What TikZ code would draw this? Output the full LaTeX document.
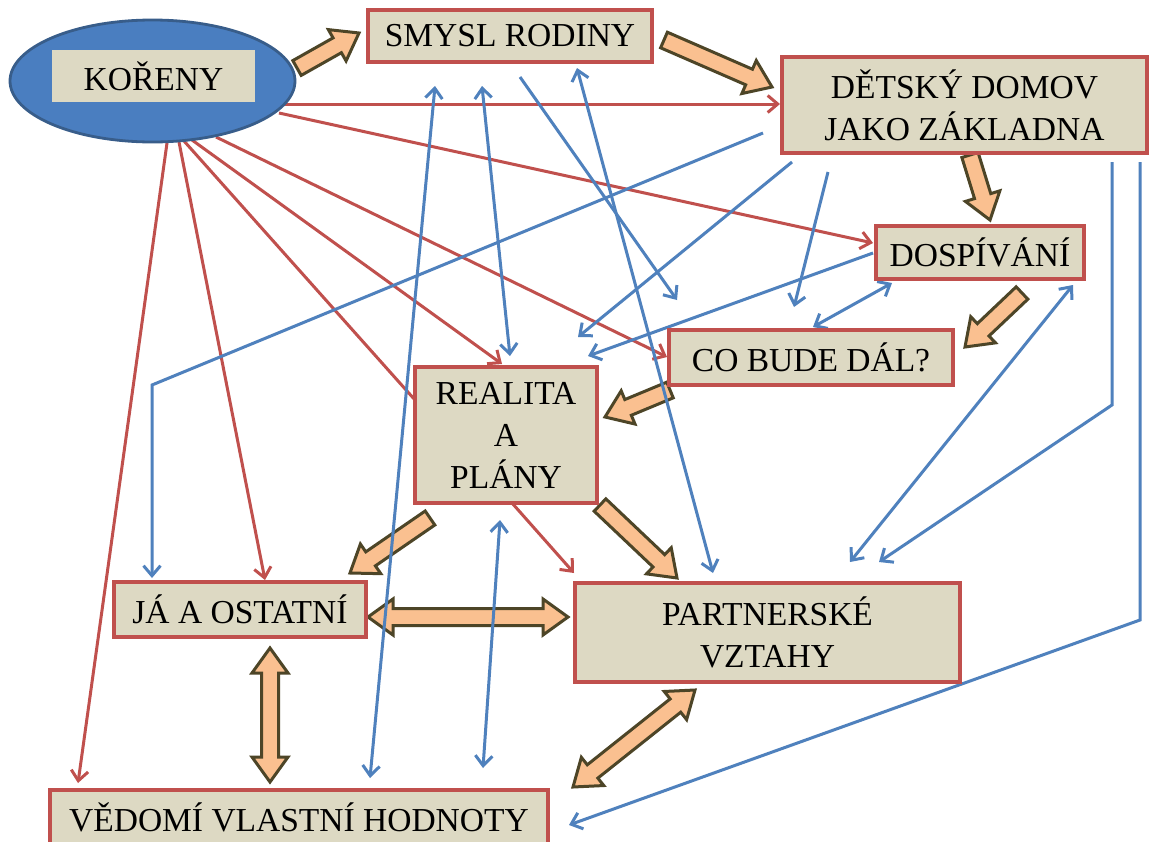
\documentclass[tikz,border=0pt]{standalone}
\usepackage{fontspec}
\setmainfont{Liberation Serif}
\usetikzlibrary{shapes.geometric,arrows.meta,calc}
\definecolor{boxfill}{HTML}{DDD9C3}
\definecolor{boxline}{HTML}{C0504D}
\definecolor{redl}{HTML}{C0504D}
\definecolor{bluel}{HTML}{4F81BD}
\definecolor{ellfill}{HTML}{4A7EC0}
\definecolor{ellline}{HTML}{385D8A}
\definecolor{orfill}{HTML}{FAC090}
\definecolor{orline}{HTML}{4D4527}
\tikzset{
  box/.style={draw=boxline, fill=boxfill, line width=3.2pt, inner sep=0pt, align=center,
              font=\fontsize{33.5}{42}\selectfont},
  redln/.style={draw=redl, line width=3pt},
  blueln/.style={draw=bluel, line width=3pt},
  tipe/.style={-{Straight Barb[length=10pt,width=17pt]}},
  tipb/.style={{Straight Barb[length=10pt,width=17pt]}-{Straight Barb[length=10pt,width=17pt]}},
  orarrow/.style={draw=orline, fill=orfill, line width=3pt, line join=miter},
}
\newcommand{\blockarrow}[2]{%
  \coordinate (baB) at ($(#2)!25pt!(#1)$);
  \draw[orarrow] ($(#1)!8.5pt!90:(#2)$) -- ($(baB)!8.5pt!-90:(#1)$) -- ($(baB)!18pt!-90:(#1)$) -- (#2)
     -- ($(baB)!18pt!90:(#1)$) -- ($(baB)!8.5pt!90:(#1)$) -- ($(#1)!8.5pt!-90:(#2)$) -- cycle;}
\newcommand{\dblockarrow}[2]{%
  \coordinate (daA) at ($(#1)!25pt!(#2)$);
  \coordinate (daB) at ($(#2)!25pt!(#1)$);
  \draw[orarrow] (#1) -- ($(daA)!18pt!90:(#2)$) -- ($(daA)!8.5pt!90:(#2)$) -- ($(daB)!8.5pt!-90:(#1)$)
     -- ($(daB)!18pt!-90:(#1)$) -- (#2) -- ($(daB)!18pt!90:(#1)$) -- ($(daB)!8.5pt!90:(#1)$)
     -- ($(daA)!8.5pt!-90:(#2)$) -- ($(daA)!18pt!-90:(#2)$) -- cycle;}
\begin{document}
\begin{tikzpicture}[x=1pt,y=-1pt]
\fill[white] (0,0) rectangle (1149,841);
\useasboundingbox (0,0) rectangle (1149,841);

% ---- block arrow end points
\coordinate (a1s) at (297,68);   \coordinate (a1e) at (359,33);
\coordinate (a2s) at (664,40);   \coordinate (a2e) at (772,87);
\coordinate (a3s) at (970,155);  \coordinate (a3e) at (990,220);
\coordinate (a4s) at (1022,293); \coordinate (a4e) at (965,347);
\coordinate (a5s) at (670,390);  \coordinate (a5e) at (605,417);
\coordinate (a6s) at (430,518);  \coordinate (a6e) at (350,573);
\coordinate (a7s) at (600,505);  \coordinate (a7e) at (677,578);
\coordinate (a8s) at (368,617);  \coordinate (a8e) at (568,617);
\coordinate (a9s) at (270,648);  \coordinate (a9e) at (270,782);
\coordinate (a10s) at (695,690); \coordinate (a10e) at (573,787);

\blockarrow{a1s}{a1e}
\blockarrow{a2s}{a2e}
\blockarrow{a3s}{a3e}
\blockarrow{a4s}{a4e}
\blockarrow{a5s}{a5e}
\blockarrow{a6s}{a6e}
\blockarrow{a7s}{a7e}
\dblockarrow{a8s}{a8e}
\dblockarrow{a9s}{a9e}
\dblockarrow{a10s}{a10e}

% ---- red connectors
\coordinate (r1s) at (283,104); \coordinate (r1e) at (780,104);
\coordinate (r2s) at (279,113); \coordinate (r2e) at (873,243);
\coordinate (r3s) at (216,137); \coordinate (r3e) at (667,357);
\coordinate (r4s) at (192,140); \coordinate (r4e) at (502,364);
\coordinate (r5s) at (184,141); \coordinate (r5e) at (415,400);
\coordinate (r6s) at (179,142); \coordinate (r6e) at (265,580);
\coordinate (r7s) at (167,143); \coordinate (r7e) at (78,783);
\coordinate (r8s) at (512,503); \coordinate (r8e) at (574,573);
\draw[redln,tipe] (r1s) -- (r1e);
\draw[redln,tipe] (r2s) -- (r2e);
\draw[redln,tipe] (r3s) -- (r3e);
\draw[redln,tipe] (r4s) -- (r4e);
\draw[redln] (r5s) -- (r5e);
\draw[redln,tipe] (r6s) -- (r6e);
\draw[redln,tipe] (r7s) -- (r7e);
\draw[redln,tipe] (r8s) -- (r8e);

% ---- blue connectors
\coordinate (b1s) at (763,133); \coordinate (b1m) at (152,385); \coordinate (b1e) at (152,578);
\coordinate (b2s) at (435,86);  \coordinate (b2e) at (370,778);
\coordinate (b3s) at (482,86);  \coordinate (b3e) at (510,356);
\coordinate (b4s) at (520,77);  \coordinate (b4e) at (677,300);
\coordinate (b5s) at (577,68);  \coordinate (b5e) at (713,573);
\coordinate (b6s) at (792,162); \coordinate (b6e) at (578,337);
\coordinate (b7s) at (828,172); \coordinate (b7e) at (794,307);
\coordinate (b8s) at (873,253); \coordinate (b8e) at (588,356);
\coordinate (b9s) at (892,283); \coordinate (b9e) at (813,327);
\coordinate (b10s) at (1073,285); \coordinate (b10e) at (850,562);
\coordinate (b11s) at (1112,162); \coordinate (b11m) at (1112,405); \coordinate (b11e) at (879,562);
\coordinate (b12s) at (1140,162); \coordinate (b12m) at (1140,620); \coordinate (b12e) at (569,825);
\coordinate (b13s) at (500,520); \coordinate (b13e) at (483,768);
\draw[blueln,tipe] (b1s) -- (b1m) -- (b1e);
\draw[blueln,tipb] (b2s) -- (b2e);
\draw[blueln,tipb] (b3s) -- (b3e);
\draw[blueln,tipe] (b4s) -- (b4e);
\draw[blueln,tipb] (b5s) -- (b5e);
\draw[blueln,tipe] (b6s) -- (b6e);
\draw[blueln,tipe] (b7s) -- (b7e);
\draw[blueln,tipe] (b8s) -- (b8e);
\draw[blueln,tipb] (b9s) -- (b9e);
\draw[blueln,tipb] (b10s) -- (b10e);
\draw[blueln,tipe] (b11s) -- (b11m) -- (b11e);
\draw[blueln,tipe] (b12s) -- (b12m) -- (b12e);
\draw[blueln,tipb] (b13s) -- (b13e);

% ---- nodes
\node[ellipse, draw=ellline, fill=ellfill, line width=2.8pt, inner sep=0pt,
      minimum width=285pt, minimum height=122pt] (kore) at (152.5,81) {};
\node[fill=boxfill, inner sep=0pt, minimum width=203pt, minimum height=52pt,
      font=\fontsize{33.5}{42}\selectfont] (kor) at (153.5,76) {KOŘENY};
\node[box, minimum width=284pt, minimum height=52pt] (smysl) at (510,36) {SMYSL RODINY};
\node[box, minimum width=365pt, minimum height=96pt] (det) at (964.5,105) {DĚTSKÝ DOMOV\\JAKO ZÁKLADNA};
\node[box, minimum width=208pt, minimum height=53pt] (dosp) at (980,252.5) {DOSPÍVÁNÍ};
\node[box, minimum width=284pt, minimum height=55pt] (co) at (811,357.5) {CO BUDE DÁL?};
\node[box, minimum width=182pt, minimum height=136pt] (real) at (506,435) {REALITA\\A\\PLÁNY};
\node[box, minimum width=252pt, minimum height=55pt] (ja) at (240,609.5) {JÁ A OSTATNÍ};
\node[box, minimum width=385pt, minimum height=99pt] (part) at (767.5,632.5) {PARTNERSKÉ\\VZTAHY};
\node[box, minimum width=498pt, minimum height=55pt] (ved) at (299,817.5) {VĚDOMÍ VLASTNÍ HODNOTY};
\end{tikzpicture}
\end{document}
